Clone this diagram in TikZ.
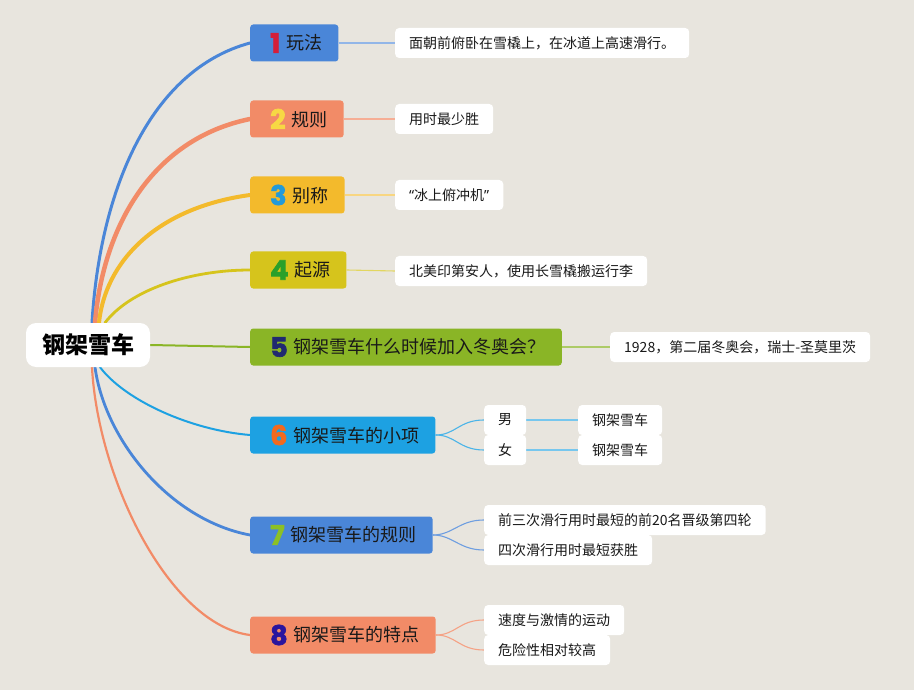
\documentclass[tikz,border=0pt]{standalone}
\usepackage{fontspec}
\setmainfont{Noto Sans CJK SC}
\newfontfamily\numfont{Poppins}[FakeBold=2.5]
\newfontfamily\latinfont{Noto Sans}
\usepackage{xcolor}
\usetikzlibrary{backgrounds}
\definecolor{bgc}{HTML}{E8E5DE}
\definecolor{cblue}{HTML}{4A86D8}
\definecolor{csalmon}{HTML}{F28B67}
\definecolor{cyellow}{HTML}{F3BA2C}
\definecolor{colive}{HTML}{D6C41C}
\definecolor{cgreen}{HTML}{8AB526}
\definecolor{csky}{HTML}{1DA1E2}
\definecolor{dred}{HTML}{D41E3A}
\definecolor{dyellow}{HTML}{F7D844}
\definecolor{dblue}{HTML}{239AD9}
\definecolor{dgreen}{HTML}{2AA02A}
\definecolor{dnavy}{HTML}{202A70}
\definecolor{dorange}{HTML}{F26A1E}
\definecolor{dlime}{HTML}{8CC026}
\definecolor{dpurple}{HTML}{2A159E}
\newcommand{\bignum}[2]{\raisebox{-3pt}{\numfont\bfseries\fontsize{27}{27}\selectfont\color{#1}#2}\hspace{6pt}}
\tikzset{
  root/.style={fill=white, rounded corners=10pt, minimum height=44pt, inner xsep=16pt, font=\fontsize{23}{25}\selectfont\bfseries},
  topic/.style={anchor=west, rounded corners=3pt, minimum height=37pt, inner xsep=16pt, inner ysep=1pt, text=black!90, font=\fontsize{18}{20}\selectfont},
  leaf/.style={anchor=west, fill=white, rounded corners=4pt, minimum height=30pt, inner xsep=14pt, inner ysep=1pt, text=black!90, font=\fontsize{14}{16}\selectfont},
  branch/.style={line cap=round},
  twig/.style={line width=1.1pt}
}
\begin{document}
\begin{tikzpicture}[x=1pt, y=-1pt]
  \node[root] (r) at (88,345) {钢架雪车};
  % main topics
  \node[topic, fill=cblue] (b1) at (250,43) {\hspace{4pt}\bignum{dred}{1}玩法};
  \node[topic, fill=csalmon] (b2) at (250,119) {\hspace{4pt}\bignum{dyellow}{2}规则};
  \node[topic, fill=cyellow] (b3) at (250,195) {\hspace{4pt}\bignum{dblue}{3}别称};
  \node[topic, fill=colive] (b4) at (250,270) {\hspace{4pt}\bignum{dgreen}{4}起源};
  \node[topic, fill=cgreen] (b5) at (250,347) {\hspace{4pt}\bignum{dnavy}{5}钢架雪车什么时候加入冬奥会？};
  \node[topic, fill=csky] (b6) at (250,435) {\hspace{4pt}\bignum{dorange}{6}钢架雪车的小项};
  \node[topic, fill=cblue] (b7) at (250,535) {\hspace{4pt}\bignum{dlime}{7}钢架雪车的规则};
  \node[topic, fill=csalmon] (b8) at (250,635) {\hspace{4pt}\bignum{dpurple}{8}钢架雪车的特点};
  % leaves
  \node[leaf] (l1) at (395,43) {面朝前俯卧在雪橇上，在冰道上高速滑行。};
  \node[leaf] (l2) at (395,119) {用时最少胜};
  \node[leaf] (l3) at (395,195) {{\latinfont “}冰上俯冲机{\latinfont ”}};
  \node[leaf] (l4) at (395,271) {北美印第安人，使用长雪橇搬运行李};
  \node[leaf] (l5) at (610,347) {1928，第二届冬奥会，瑞士-圣莫里茨};
  \node[leaf] (l6a) at (484,420) {男};
  \node[leaf] (l6b) at (484,450) {女};
  \node[leaf] (l6c) at (578,420) {钢架雪车};
  \node[leaf] (l6d) at (578,450) {钢架雪车};
  \node[leaf] (l7a) at (484,520) {前三次滑行用时最短的前20名晋级第四轮};
  \node[leaf] (l7b) at (484,550) {四次滑行用时最短获胜};
  \node[leaf] (l8a) at (484,620) {速度与激情的运动};
  \node[leaf] (l8b) at (484,650) {危险性相对较高};
  \begin{pgfonlayer}{background}
    \fill[bgc] (0,0) rectangle (914,690);
    % root branches
    \draw[branch, cblue, line width=3pt] ([xshift=4pt]r.north) .. controls +(8,-133) and +(-100,27) .. (b1.west);
    \draw[branch, csalmon, line width=4.5pt] ([xshift=7pt]r.north) .. controls +(8,-96) and +(-98,20) .. (b2.west);
    \draw[branch, cyellow, line width=4pt] ([xshift=11pt]r.north) .. controls +(6,-60) and +(-95,13) .. (b3.west);
    \draw[branch, colive, line width=2.8pt] ([xshift=17pt]r.north) .. controls +(25,-33) and +(-60,0) .. (b4.west);
    \draw[branch, cgreen, line width=2pt] (r.east) -- (b5.west);
    \draw[branch, csky, line width=2pt] ([xshift=12pt]r.south) .. controls +(25,33) and +(-60,-5) .. (b6.west);
    \draw[branch, cblue, line width=2.8pt] ([xshift=7pt]r.south) .. controls +(10,73) and +(-80,-15) .. (b7.west);
    \draw[branch, csalmon, line width=2.2pt] ([xshift=4pt]r.south) .. controls +(6,113) and +(-80,-10) .. (b8.west);
    % topic to leaf
    \draw[twig, cblue!60!white] (b1.east) -- (l1.west);
    \draw[twig, csalmon!70!white] (b2.east) -- (l2.west);
    \draw[twig, cyellow!60!white] (b3.east) -- (l3.west);
    \draw[twig, colive!70!white] (b4.east) -- (l4.west);
    \draw[twig, cgreen!70!white] (b5.east) -- (l5.west);
    \draw[twig, csky!80!white] (b6.east) .. controls +(20,0) and +(-25,0) .. (l6a.west);
    \draw[twig, csky!80!white] (b6.east) .. controls +(20,0) and +(-25,0) .. (l6b.west);
    \draw[twig, csky!60!white] (l6a.east) -- (l6c.west);
    \draw[twig, csky!60!white] (l6b.east) -- (l6d.west);
    \draw[twig, cblue!80!white] (b7.east) .. controls +(20,0) and +(-25,0) .. (l7a.west);
    \draw[twig, cblue!80!white] (b7.east) .. controls +(20,0) and +(-25,0) .. (l7b.west);
    \draw[twig, csalmon!80!white] (b8.east) .. controls +(20,0) and +(-25,0) .. (l8a.west);
    \draw[twig, csalmon!80!white] (b8.east) .. controls +(20,0) and +(-25,0) .. (l8b.west);
  \end{pgfonlayer}
\end{tikzpicture}
\end{document}
